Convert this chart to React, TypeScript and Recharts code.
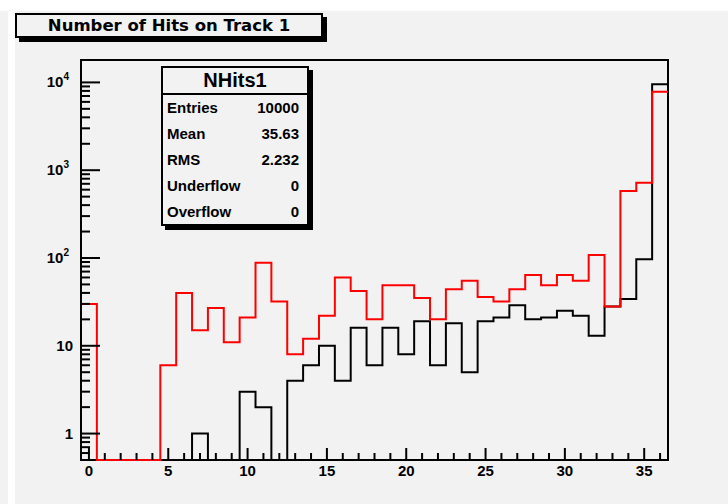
import React from "react";
import { ComposedChart, Line, XAxis, YAxis, ReferenceArea } from "recharts";

// bin centres 0..36, width 1
const bins = [
  0, 1, 2, 3, 4, 5, 6, 7, 8, 9, 10, 11, 12, 13, 14, 15, 16, 17, 18, 19, 20, 21, 22, 23, 24, 25, 26,
  27, 28, 29, 30, 31, 32, 33, 34, 35, 36,
];
const blackCounts = [
  0, 0, 0, 0, 0, 0, 0, 1, 0, 0, 3, 2, 0, 4, 6, 10, 4, 16, 6, 16, 8, 19, 6, 18, 5, 19, 21, 29, 20, 21,
  25, 22, 13, 28, 34, 97, 9547,
];
const redCounts = [
  30, 0, 0, 0, 0, 6, 40, 15, 27, 11, 21, 88, 32, 8, 12, 22, 60, 42, 20, 49, 49, 35, 20, 44, 55, 36,
  32, 44, 64, 49, 64, 55, 108, 28, 580, 720, 7830,
];

const xTicks = bins;
const yMajorTicks = [1, 10, 100, 1000, 10000];
const yMinorSteps = [2, 3, 4, 5, 6, 7, 8, 9];
const yLowTicks = [0.5, 0.6, 0.7, 0.8, 0.9];

const Y_MIN = 0.5;
const Y_MAX = 18000;

const yTicks = [
  ...yLowTicks,
  ...yMajorTicks.flatMap((d) => (d < 10000 ? [d, ...yMinorSteps.map((m) => d * m)] : [d])),
];

// step histogram: one point per left bin edge + closing right edge
const data = bins.map((b, i) => ({
  x: b - 0.5,
  black: Math.max(blackCounts[i], Y_MIN),
  red: Math.max(redCounts[i], Y_MIN),
}));
data.push({ ...data[data.length - 1], x: bins[bins.length - 1] + 0.5 });

const labelFont = "'Liberation Sans', Arial, sans-serif";

function XTick(props: any) {
  const { x, y, payload } = props;
  const v = payload.value as number;
  const major = v % 5 === 0;
  return (
    <g>
      <line x1={x} x2={x} y1={y} y2={y - (major ? 12 : 7)} stroke="#000" strokeWidth={2} />
      {major && (
        <text x={x} y={y + 16} textAnchor="middle" fontFamily={labelFont} fontWeight="bold" fontSize={15} fill="#000">
          {v}
        </text>
      )}
    </g>
  );
}

function YTick(props: any) {
  const { x, y, payload } = props;
  const v = payload.value as number;
  const major = yMajorTicks.includes(v);
  const exp = Math.round(Math.log10(v));
  return (
    <g>
      <line x1={x} x2={x + (major ? 19 : 9)} y1={y} y2={y} stroke="#000" strokeWidth={2} />
      {major && exp < 2 && (
        <text x={x - 8} y={y + 5} textAnchor="end" fontFamily={labelFont} fontWeight="bold" fontSize={15} fill="#000">
          {v}
        </text>
      )}
      {major && exp >= 2 && (
        <text x={x - 12} y={y + 5} textAnchor="end" fontFamily={labelFont} fontWeight="bold" fontSize={15} fill="#000">
          10
          <tspan dy={-7} fontSize={10}>
            {exp}
          </tspan>
        </text>
      )}
    </g>
  );
}

const statsRows = [
  ["Entries", "10000"],
  ["Mean", "35.63"],
  ["RMS", "2.232"],
  ["Underflow", "0"],
  ["Overflow", "0"],
];

export default function App() {
  return (
    <div style={{ position: "fixed", left: 0, top: 0, width: 728, height: 504, background: "#f2f2f2", overflow: "hidden" }}>
      <div style={{ position: "absolute", left: 0, top: 0, width: 728, height: 11, background: "#fff" }} />
      <div style={{ position: "absolute", left: 8, top: 0, width: 7, height: 504, background: "#fff" }} />

      <div style={{ position: "absolute", left: 0, top: 0 }}>
        <ComposedChart width={728} height={504} data={data} margin={{ top: 60, right: 60, bottom: 14, left: 41 }}>
          <XAxis
            type="number"
            dataKey="x"
            domain={[-0.5, 36.5]}
            ticks={xTicks}
            interval={0}
            height={30}
            tickSize={0}
            tickMargin={0}
            tickLine={false}
            axisLine={false}
            tick={<XTick />}
          />
          <YAxis
            type="number"
            scale="log"
            domain={[Y_MIN, Y_MAX]}
            ticks={yTicks}
            interval={0}
            width={40}
            tickSize={0}
            tickMargin={0}
            tickLine={false}
            axisLine={false}
            tick={<YTick />}
          />
          {/* frame drawn first so the histograms sit on top of it */}
          <ReferenceArea x1={-0.5} x2={36.5} y1={Y_MIN} y2={Y_MAX} fill="none" stroke="#000" strokeWidth={2} />
          <Line type="stepAfter" dataKey="black" stroke="#000" strokeWidth={2} dot={false} isAnimationActive={false} />
          <Line type="stepAfter" dataKey="red" stroke="#ff0000" strokeWidth={2} dot={false} isAnimationActive={false} />
        </ComposedChart>
      </div>

      <div
        style={{
          position: "absolute",
          left: 15,
          top: 13,
          width: 308,
          height: 25,
          boxSizing: "border-box",
          border: "2px solid #000",
          boxShadow: "4px 4px 0 #000",
          background: "#f2f2f2",
          fontFamily: "'DejaVu Sans', sans-serif",
          fontWeight: "bold",
          fontSize: 16.5,
          lineHeight: "21px",
          textAlign: "center",
        }}
      >
        Number of Hits on Track 1
      </div>

      <div
        style={{
          position: "absolute",
          left: 161,
          top: 66,
          width: 148,
          height: 160,
          boxSizing: "border-box",
          border: "2px solid #000",
          boxShadow: "4px 4px 0 #000",
          background: "#f2f2f2",
          fontFamily: labelFont,
          fontWeight: "bold",
        }}
      >
        <div style={{ height: 25, lineHeight: "25px", borderBottom: "2px solid #000", textAlign: "center", fontSize: 20 }}>
          NHits1
        </div>
        {statsRows.map(([k, v]) => (
          <div
            key={k}
            style={{ display: "flex", justifyContent: "space-between", height: 26, lineHeight: "26px", fontSize: 15, padding: "0 8px 0 4px" }}
          >
            <span>{k}</span>
            <span>{v}</span>
          </div>
        ))}
      </div>
    </div>
  );
}
